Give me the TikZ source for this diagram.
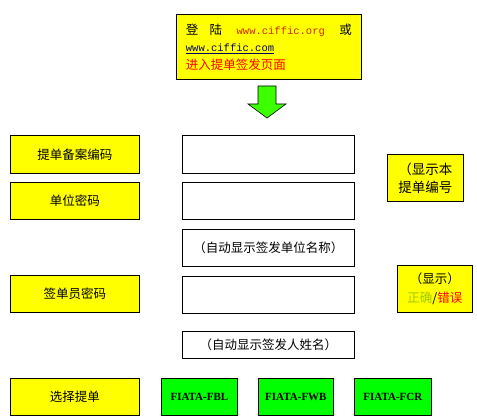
\documentclass[tikz,border=0pt]{standalone}
\usepackage{fontspec}
\setmainfont{Noto Sans CJK SC}
\setmonofont{Liberation Mono}
\newfontfamily\fiatafont{Liberation Serif}
\usepackage{xcolor}
\usetikzlibrary{positioning}
\definecolor{boxyellow}{RGB}{255,255,0}
\definecolor{boxgreen}{RGB}{0,255,0}
\definecolor{arrowgreen}{RGB}{60,255,0}
\definecolor{urlred}{RGB}{204,40,0}
\definecolor{urlblue}{RGB}{0,0,100}
\definecolor{okgreen}{RGB}{160,200,0}
\tikzset{
  box/.style={draw, line width=0.8pt, inner sep=0pt, anchor=north west, font=\fontsize{12.5}{15}\selectfont},
  lbl/.style={box, fill=boxyellow, minimum width=129pt, minimum height=38pt},
  field/.style={box, fill=white, minimum width=172pt, minimum height=37pt},
  note/.style={box, fill=boxyellow, align=center},
  fiata/.style={box, fill=boxgreen, minimum width=76pt, minimum height=37pt, font=\fiatafont\bfseries\fontsize{11}{12}\selectfont}
}
\newcommand{\siteurl}[1]{{\ttfamily\fontsize{10.5}{12}\selectfont #1}}

\begin{document}
\begin{tikzpicture}[x=1pt, y=-1pt]
\useasboundingbox (0,0) rectangle (477,420);
% login box
\node[box, fill=boxyellow, minimum width=185pt, minimum height=65pt, text width=166pt, align=left, font=\fontsize{12.5}{17.5}\selectfont] (login) at (176,14)
  {登\hspace{0.9em}陆\hfill{\color{urlred}\siteurl{www.ciffic.org}}\hfill 或\\
   {\color{urlblue}\underline{\siteurl{www.ciffic.com}}}\\
   {\color{red}进入提单签发页面}};
% arrow down
\draw[fill=arrowgreen, line width=0.6pt] (258,86) -- (276,86) -- (276,104) -- (286,104) -- (267,118) -- (248,104) -- (258,104) -- cycle;
% left labels
\node[lbl] (code) at (10,135) {提单备案编码};
\node[lbl, minimum height=37pt] (unitpw) at (10,182) {单位密码};
\node[lbl, minimum height=37pt] (signpw) at (10,275) {签单员密码};
\node[lbl, minimum height=37pt] (choose) at (10,378) {选择提单};
% input fields
\node[field, minimum height=38pt] (codein) at (182,135) {};
\node[field] (unitin) at (182,182) {};
\node[field] (unitname) at (182,229) {（自动显示签发单位名称）};
\node[field] (signin) at (182,276) {};
\node[field, minimum height=27pt] (signname) at (182,331) {（自动显示签发人姓名）};
% notes on the right
\node[note, minimum width=76pt, minimum height=47pt, font=\fontsize{13.5}{18}\selectfont] (shownum) at (387,154) {（显示本\\提单编号};
\node[note, minimum width=75pt, minimum height=47pt, font=\fontsize{12.5}{18.5}\selectfont] (showok) at (397,265)
  {（显示）\\{\color{okgreen}正确}/{\color{red}错误}};
% bill types
\node[fiata] (fbl) at (161,378) {FIATA-FBL};
\node[fiata, minimum width=75pt] (fwb) at (258,378) {FIATA-FWB};
\node[fiata, minimum width=77pt] (fcr) at (354,378) {FIATA-FCR};
\end{tikzpicture}
\end{document}
